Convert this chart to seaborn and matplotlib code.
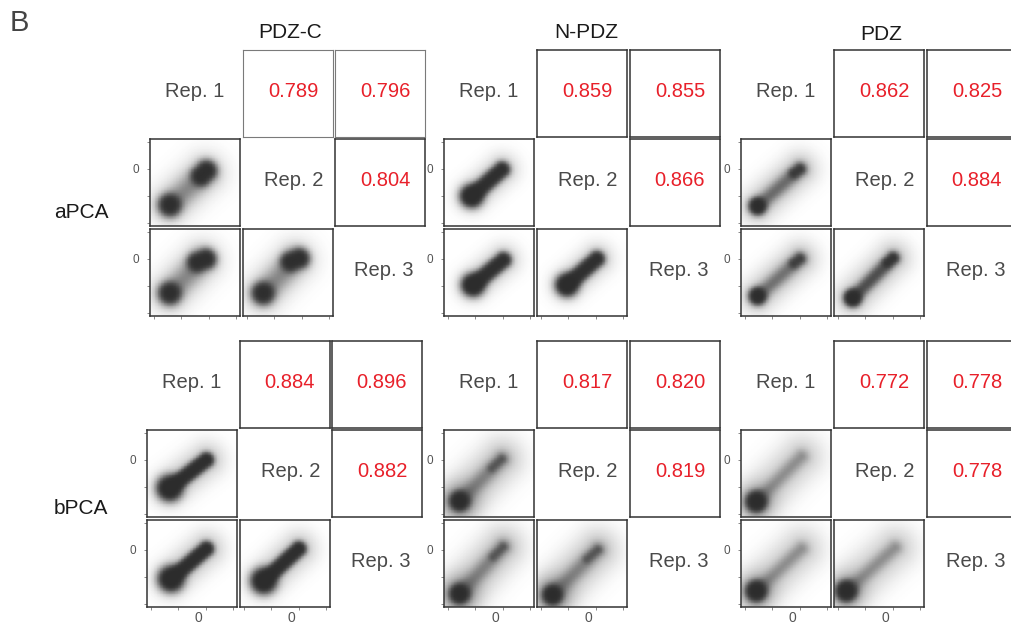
import numpy as np
import matplotlib
matplotlib.use("Agg")
import matplotlib.pyplot as plt
from matplotlib.colors import LinearSegmentedColormap
from matplotlib.transforms import ScaledTranslation
import seaborn as sns

# ---------------- data ----------------
proteins = ["PDZ-C", "N-PDZ", "PDZ"]
assays = ["aPCA", "bPCA"]
replicates = ["Rep. 1", "Rep. 2", "Rep. 3"]
axis_ticks = [-2, -1, 0, 1]
axis_tick_labels = ["", "", "0", ""]

# Pearson r per protein: (Rep1 vs Rep2, Rep1 vs Rep3, Rep2 vs Rep3)
r_aPCA = [[0.789, 0.796, 0.804], [0.859, 0.855, 0.866], [0.862, 0.825, 0.884]]
r_bPCA = [[0.884, 0.896, 0.882], [0.817, 0.820, 0.819], [0.772, 0.778, 0.778]]

# Density clouds, one list per panel
# (Rep2 vs Rep1, Rep3 vs Rep1, Rep3 vs Rep2); each item:
# (x start, y start, x end, y end, spread, intensity)
cloud_aPCA_PDZC = [
    [(-1.42, -1.33, -1.42, -1.33, 0.22, 4.0), (-0.28, -0.26, -0.08, -0.06, 0.20, 4.0),
     (-1.42, -1.33, -0.14, -0.15, 0.28, 0.55), (-1.42, -1.33, -0.14, -0.15, 0.52, 0.32)],
    [(-1.42, -1.26, -1.42, -1.26, 0.22, 4.0), (-0.42, -0.12, -0.10, 0.00, 0.20, 4.0),
     (-1.42, -1.26, -0.25, -0.06, 0.28, 0.55), (-1.42, -1.26, -0.25, -0.06, 0.52, 0.32)],
    [(-1.40, -1.26, -1.40, -1.26, 0.22, 4.0), (-0.40, -0.10, -0.08, 0.02, 0.20, 4.0),
     (-1.40, -1.26, -0.23, -0.04, 0.28, 0.55), (-1.40, -1.26, -0.23, -0.04, 0.52, 0.32)],
]
cloud_aPCA_NPDZ = [
    [(-1.13, -1.00, -1.13, -1.00, 0.23, 4.0), (-1.13, -1.00, -0.03, -0.02, 0.16, 4.0),
     (-1.13, -1.00, -0.03, -0.02, 0.40, 0.35)],
    [(-1.08, -0.96, -1.08, -0.96, 0.23, 4.0), (-1.08, -0.96, 0.02, -0.04, 0.16, 4.0),
     (-1.08, -0.96, 0.02, -0.04, 0.40, 0.35)],
    [(-1.05, -0.96, -1.05, -0.96, 0.23, 4.0), (-1.05, -0.96, 0.04, 0.00, 0.16, 4.0),
     (-1.05, -0.96, 0.04, 0.00, 0.40, 0.35)],
]
cloud_aPCA_PDZ = [
    [(-1.53, -1.37, -1.53, -1.37, 0.17, 4.5), (-1.53, -1.37, 0.01, -0.01, 0.18, 0.9),
     (-0.20, -0.16, 0.01, -0.01, 0.13, 1.5), (-1.53, -1.37, 0.01, -0.01, 0.45, 0.35)],
    [(-1.53, -1.37, -1.53, -1.37, 0.17, 4.5), (-1.53, -1.37, 0.01, 0.00, 0.18, 0.8),
     (-0.20, -0.16, 0.01, 0.00, 0.13, 1.3), (-1.53, -1.37, 0.01, 0.00, 0.45, 0.35)],
    [(-1.46, -1.44, -1.46, -1.44, 0.17, 4.5), (-1.46, -1.44, 0.01, 0.03, 0.16, 1.5),
     (-0.20, -0.14, 0.01, 0.03, 0.12, 1.5), (-1.46, -1.44, 0.01, 0.03, 0.45, 0.35)],
]
cloud_bPCA_PDZC = [
    [(-1.31, -1.04, -1.31, -1.04, 0.25, 5.0), (-1.31, -1.04, 0.03, 0.00, 0.15, 4.5),
     (-1.31, -1.04, 0.03, 0.00, 0.45, 0.35)],
    [(-1.26, -1.07, -1.26, -1.07, 0.25, 5.0), (-1.26, -1.07, 0.03, 0.04, 0.15, 4.5),
     (-1.26, -1.07, 0.03, 0.04, 0.45, 0.35)],
    [(-1.27, -1.14, -1.27, -1.14, 0.25, 5.0), (-1.27, -1.14, 0.01, 0.04, 0.15, 4.5),
     (-1.27, -1.14, 0.01, 0.04, 0.45, 0.35)],
]
cloud_bPCA_NPDZ = [
    [(-1.57, -1.52, -1.57, -1.52, 0.19, 5.0), (-1.57, -1.52, -0.04, 0.03, 0.20, 0.6),
     (-0.40, -0.30, -0.04, 0.03, 0.12, 0.7), (-1.57, -1.52, -0.04, 0.03, 0.55, 0.35),
     (-1.57, -1.52, -1.57, -1.52, 0.45, 0.5)],
    [(-1.57, -1.62, -1.57, -1.62, 0.19, 5.0), (-1.57, -1.62, 0.01, 0.11, 0.20, 0.6),
     (-0.35, -0.25, 0.01, 0.11, 0.12, 0.7), (-1.57, -1.62, 0.01, 0.11, 0.55, 0.35),
     (-1.57, -1.62, -1.57, -1.62, 0.45, 0.5)],
    [(-1.58, -1.66, -1.58, -1.66, 0.19, 5.0), (-1.58, -1.66, 0.07, 0.00, 0.20, 0.6),
     (-0.32, -0.33, 0.07, 0.00, 0.12, 0.7), (-1.58, -1.66, 0.07, 0.00, 0.55, 0.35),
     (-1.58, -1.66, -1.58, -1.66, 0.45, 0.5)],
]
cloud_bPCA_PDZ = [
    [(-1.58, -1.54, -1.58, -1.54, 0.20, 5.5), (-1.58, -1.54, 0.07, 0.12, 0.18, 0.5),
     (-1.58, -1.54, 0.07, 0.12, 0.55, 0.30), (-1.58, -1.54, -1.58, -1.54, 0.45, 0.4)],
    [(-1.58, -1.52, -1.58, -1.52, 0.20, 5.5), (-1.58, -1.52, 0.07, 0.04, 0.18, 0.5),
     (-1.58, -1.52, 0.07, 0.04, 0.55, 0.30), (-1.58, -1.52, -1.58, -1.52, 0.45, 0.4)],
    [(-1.69, -1.52, -1.69, -1.52, 0.20, 5.5), (-1.69, -1.52, 0.08, 0.08, 0.18, 0.5),
     (-1.69, -1.52, 0.08, 0.08, 0.55, 0.30), (-1.69, -1.52, -1.69, -1.52, 0.45, 0.4)],
]
clouds = {
    "aPCA": [cloud_aPCA_PDZC, cloud_aPCA_NPDZ, cloud_aPCA_PDZ],
    "bPCA": [cloud_bPCA_PDZC, cloud_bPCA_NPDZ, cloud_bPCA_PDZ],
}
corrs = {"aPCA": r_aPCA, "bPCA": r_bPCA}

# ---------------- layout / style ----------------
sns.set_theme(style="white")
plt.rcParams["font.family"] = ["Liberation Sans", "DejaVu Sans"]

W, H = 1012, 624
fig = plt.figure(figsize=(W / 100, H / 100), dpi=100)

col_left = {"aPCA": [[150, 243, 335], [444, 537, 630], [741, 834, 927]],
            "bPCA": [[147, 240, 332], [444, 537, 630], [741, 834, 927]]}
row_top = {"aPCA": [50, 139, 229], "bPCA": [341, 430, 520]}
CW, CH = 90, 87
XLIM = (-2.15, 1.15)
YLIM = (-2.11, 1.11)

xe = np.linspace(XLIM[0], XLIM[1], 121)
ye = np.linspace(YLIM[0], YLIM[1], 118)
GX, GY = np.meshgrid((xe[:-1] + xe[1:]) / 2, (ye[:-1] + ye[1:]) / 2)

cloud_cmap = LinearSegmentedColormap.from_list("cloud", ["#ffffff", "#9a9a9a", "#2c2c2c"])
RED = "#e8202a"
FRAME = "#333333"


def shade(components):
    d = np.zeros_like(GX)
    for x0, y0, x1, y1, s, a in components:
        dx, dy = x1 - x0, y1 - y0
        l2 = dx * dx + dy * dy
        t = 0.0 if l2 == 0 else np.clip(((GX - x0) * dx + (GY - y0) * dy) / l2, 0, 1)
        r2 = (GX - (x0 + t * dx)) ** 2 + (GY - (y0 + t * dy)) ** 2
        d += a * np.exp(-r2 / (2 * s * s))
    return 1 - np.exp(-d)


def add_ax(x, y):
    return fig.add_axes([x / W, 1 - (y + CH) / H, CW / W, CH / H])


def frame(ax, color=FRAME, lw=1.1):
    for sp in ax.spines.values():
        sp.set_visible(True)
        sp.set_color(color)
        sp.set_linewidth(lw)


pairs = [(1, 0), (2, 0), (2, 1)]
upper = [(0, 1), (0, 2), (1, 2)]
rep_dx = [0, 6, 4]

for a_i, assay in enumerate(assays):
    for p_i, prot in enumerate(proteins):
        lefts = col_left[assay][p_i]
        tops = row_top[assay]
        # diagonal labels
        for k in range(3):
            ax = add_ax(lefts[k], tops[k])
            ax.set_axis_off()
            ax.text(0.5 + rep_dx[k] / CW, 0.52, replicates[k], transform=ax.transAxes,
                    ha="center", va="center", fontsize=14.5, color="#4a4a4a")
        # correlation boxes
        for k, (r, c) in enumerate(upper):
            ax = add_ax(lefts[c], tops[r])
            ax.set_xticks([])
            ax.set_yticks([])
            light = (assay == "aPCA" and p_i == 0 and r == 0)
            frame(ax, "#7a7a7a" if light else FRAME, 0.8 if light else 1.1)
            ax.text(0.5 + 5 / CW, 0.52, f"{corrs[assay][p_i][k]:.3f}", transform=ax.transAxes,
                    ha="center", va="center", fontsize=14.5, color=RED)
        # scatter density panels
        for k, (r, c) in enumerate(pairs):
            ax = add_ax(lefts[c], tops[r])
            val = shade(clouds[assay][p_i][k])
            sns.histplot(x=GX.ravel(), y=GY.ravel(), weights=val.ravel(), bins=[xe, ye],
                         cmap=cloud_cmap, vmin=0, vmax=1, ax=ax, cbar=False)
            ax.set_xlim(XLIM)
            ax.set_ylim(YLIM)
            ax.set_xlabel("")
            ax.set_ylabel("")
            frame(ax)
            ax.set_xticks([])
            ax.set_yticks([])
            if c == 0:
                ax.set_yticks(axis_ticks)
                ax.set_yticklabels(axis_tick_labels)
                ax.tick_params(axis="y", left=True, direction="out", length=2.5, width=0.6,
                               color="#777777", labelsize=8.5, labelcolor="#555555", pad=5)
            if r == 2:
                ax.set_xticks(axis_ticks)
                ax.set_xticklabels(axis_tick_labels if assay == "bPCA" else [""] * 4)
                ax.tick_params(axis="x", bottom=True, direction="out", length=2.5, width=0.6,
                               color="#777777", labelsize=10, labelcolor="#555555", pad=0.5)
                for lab in ax.get_xticklabels():
                    lab.set_transform(lab.get_transform() +
                                      ScaledTranslation(-7 / 100, 0, fig.dpi_scale_trans))

# titles and row labels
title_pos = [(290, 32), (586, 33), (881, 35)]
for prot, (tx, ty) in zip(proteins, title_pos):
    fig.text(tx / W, 1 - ty / H, prot, ha="center", va="center", fontsize=15, color="#1a1a1a")
for assay, ty in zip(assays, [213, 508]):
    fig.text(81 / W, 1 - ty / H, assay, ha="center", va="center", fontsize=15, color="#1a1a1a")
fig.text(10 / W, 1 - 23 / H, "B", ha="left", va="center", fontsize=21, color="#444444")

fig.savefig("out.png", dpi=100)
